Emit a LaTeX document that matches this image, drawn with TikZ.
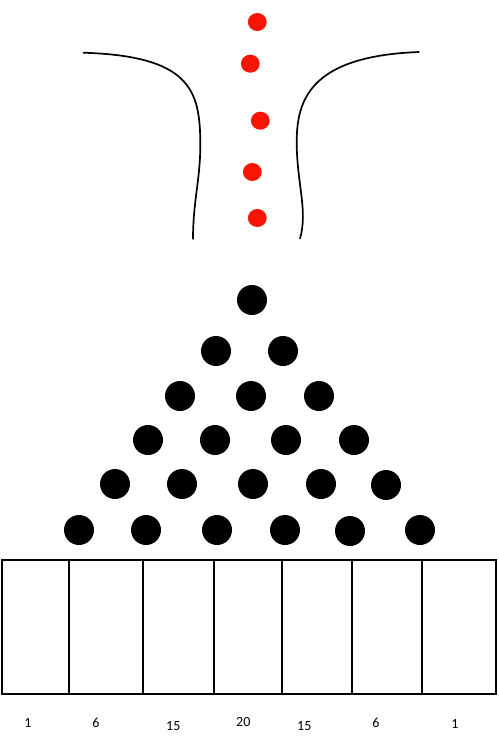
\documentclass[tikz,border=0pt]{standalone}
\usepackage{fontspec}
\setmainfont{Carlito}
\usepackage{tikz}
\usetikzlibrary{positioning}

\begin{document}
\begin{tikzpicture}[x=1pt,y=-1pt,
	drop/.style={fill={rgb,255:red,250;green,20;blue,5}},
	peg/.style={fill=black},
	wall/.style={line width=1.7pt},
	bin/.style={line width=1.8pt},
	count/.style={font=\fontsize{14}{16}\selectfont, inner sep=0pt}]
	\useasboundingbox (0,0) rectangle (498,746);
	% funnel
	\draw[wall] (83,52.7) .. controls (190,56) and (200,90) .. (200.3,143)
		.. controls (200.5,180) and (193,200) .. (193,239.3);
	\draw[wall] (419.3,52) .. controls (310,56) and (296.5,100) .. (296.7,143)
		.. controls (297,185) and (308,210) .. (300,238.7);
	% falling balls
	\foreach \p in {(257.3,22),(250.3,63.7),(260.3,120.7),(252.3,172),(257.3,218)}
		\fill[drop] \p ellipse (9.4 and 9);
	% pegs
	\foreach \p in {(252,300),
		(216,351),(283,351),
		(180,396),(251,396),(319,396),
		(148,440),(215,440),(286,440),(354,440),
		(115,484),(182,484),(253,484),(321,484),(386,485),
		(79,530),(146,530),(217,530),(285,530),(350,531),(420,530)}
		\fill[peg] \p circle (15);
	% bins
	\draw[bin] (1.7,560) rectangle (496,694);
	\foreach \x in {69,143.3,214,282,352.3,422.3}
		\draw[bin] (\x,560) -- (\x,694);
	\node[count] (c1) at (28,722.5) {1};
	\node[count] (c2) at (96,722.7) {6};
	\node[count] (c3) at (173.3,726) {15};
	\node[count] (c4) at (243.3,722.3) {20};
	\node[count] (c5) at (304.3,726) {15};
	\node[count] (c6) at (376,722.7) {6};
	\node[count] (c7) at (455,723.7) {1};
\end{tikzpicture}
\end{document}
